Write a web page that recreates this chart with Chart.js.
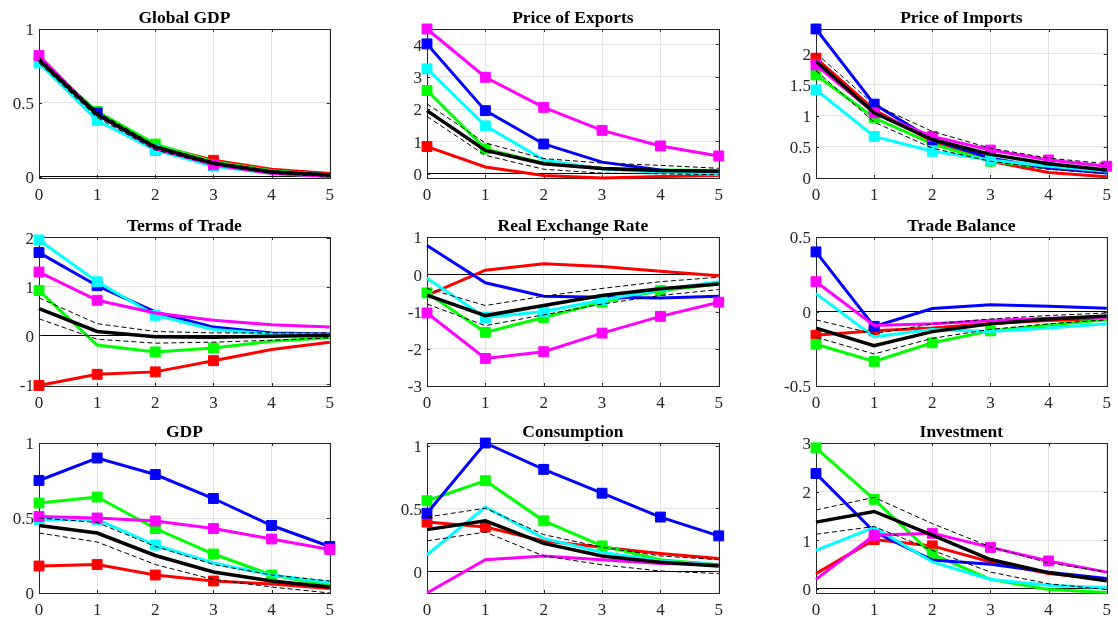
<!DOCTYPE html>
<html>
<head>
<meta charset="utf-8">
<script src="https://cdn.jsdelivr.net/npm/chart.js@4.4.0/dist/chart.umd.min.js"></script>
<style>
  html, body { margin: 0; padding: 0; background: #fff; overflow: hidden; }
  #page { position: relative; width: 1118px; height: 619px; }
  .cell { position: absolute; }
</style>
</head>
<body>
<div id="page"></div>
<script>
// panels, left to right then top to bottom
const titles = ['Global GDP', 'Price of Exports', 'Price of Imports',
                'Terms of Trade', 'Real Exchange Rate', 'Trade Balance',
                'GDP', 'Consumption', 'Investment'];
const horizons = [0, 1, 2, 3, 4, 5];

const yMin = [-0.01, -0.13, 0, -1.04, -3, -0.5, 0, -0.175, -0.09];
const yMax = [1, 4.47, 2.4, 2.02, 1, 0.5, 1, 1.02, 3.0];
const yTicks = [
  [0, 0.5, 1], [0, 1, 2, 3, 4], [0, 0.5, 1, 1.5, 2],
  [-1, 0, 1, 2], [-3, -2, -1, 0, 1], [-0.5, 0, 0.5],
  [0, 0.5, 1], [0, 0.5, 1], [0, 1, 2, 3]
];

// responses, one row per panel
const redSeries = [
  [0.80, 0.43, 0.21, 0.11, 0.05, 0.02],
  [0.84, 0.21, -0.05, -0.13, -0.08, -0.05],
  [1.93, 1.10, 0.59, 0.27, 0.09, 0.02],
  [-1.03, -0.80, -0.75, -0.52, -0.29, -0.14],
  [-0.57, 0.11, 0.28, 0.21, 0.08, -0.04],
  [-0.16, -0.13, -0.11, -0.08, -0.06, -0.05],
  [0.18, 0.19, 0.12, 0.08, 0.06, 0.03],
  [0.39, 0.35, 0.24, 0.19, 0.14, 0.10],
  [0.31, 1.01, 0.88, 0.55, 0.31, 0.19]
];
const greenSeries = [
  [0.79, 0.44, 0.22, 0.10, 0.04, 0.01],
  [2.57, 0.77, 0.33, 0.17, 0.12, 0.10],
  [1.66, 0.97, 0.55, 0.27, 0.16, 0.11],
  [0.92, -0.20, -0.34, -0.26, -0.12, -0.05],
  [-0.50, -1.56, -1.16, -0.75, -0.44, -0.26],
  [-0.22, -0.335, -0.21, -0.13, -0.09, -0.055],
  [0.60, 0.64, 0.43, 0.26, 0.12, 0.05],
  [0.56, 0.72, 0.40, 0.20, 0.09, 0.05],
  [2.90, 1.84, 0.71, 0.19, -0.02, -0.08]
];
const blueSeries = [
  [0.78, 0.43, 0.18, 0.08, 0.03, 0.01],
  [4.01, 1.95, 0.92, 0.36, 0.12, 0.02],
  [2.40, 1.19, 0.62, 0.32, 0.16, 0.08],
  [1.70, 1.02, 0.48, 0.17, 0.05, 0.03],
  [0.77, -0.23, -0.59, -0.62, -0.64, -0.59],
  [0.40, -0.10, 0.02, 0.045, 0.036, 0.022],
  [0.75, 0.90, 0.79, 0.63, 0.45, 0.31],
  [0.46, 1.02, 0.81, 0.62, 0.43, 0.28],
  [2.37, 1.17, 0.59, 0.50, 0.34, 0.21]
];
const cyanSeries = [
  [0.77, 0.38, 0.18, 0.07, 0.02, 0.00],
  [3.24, 1.48, 0.43, 0.15, 0.05, -0.02],
  [1.42, 0.67, 0.43, 0.29, 0.19, 0.11],
  [1.96, 1.10, 0.41, 0.12, 0.03, 0.02],
  [-0.11, -1.16, -1.00, -0.69, -0.42, -0.20],
  [0.12, -0.17, -0.12, -0.135, -0.11, -0.083],
  [0.49, 0.49, 0.32, 0.20, 0.12, 0.07],
  [0.13, 0.51, 0.26, 0.15, 0.08, 0.05],
  [0.79, 1.26, 0.55, 0.19, 0.07, 0.02]
];
const magentaSeries = [
  [0.82, 0.42, 0.19, 0.08, 0.02, 0.00],
  [4.47, 2.98, 2.05, 1.34, 0.86, 0.55],
  [1.82, 1.05, 0.67, 0.45, 0.29, 0.19],
  [1.30, 0.72, 0.46, 0.31, 0.22, 0.17],
  [-1.04, -2.26, -2.08, -1.58, -1.13, -0.75],
  [0.20, -0.094, -0.083, -0.06, -0.045, -0.038],
  [0.51, 0.50, 0.48, 0.43, 0.36, 0.29],
  [-0.175, 0.09, 0.12, 0.09, 0.06, 0.05],
  [0.19, 1.10, 1.14, 0.85, 0.57, 0.34]
];
const medianSeries = [
  [0.79, 0.42, 0.20, 0.09, 0.03, 0.01],
  [1.95, 0.72, 0.31, 0.16, 0.10, 0.08],
  [1.88, 1.05, 0.62, 0.38, 0.23, 0.13],
  [0.55, 0.08, -0.03, -0.04, -0.02, 0.00],
  [-0.56, -1.11, -0.84, -0.57, -0.39, -0.26],
  [-0.112, -0.23, -0.135, -0.083, -0.05, -0.03],
  [0.45, 0.40, 0.25, 0.14, 0.08, 0.04],
  [0.33, 0.40, 0.22, 0.12, 0.07, 0.04],
  [1.37, 1.59, 1.10, 0.60, 0.33, 0.16]
];
const upperBand = [
  [0.81, 0.44, 0.21, 0.10, 0.04, 0.01],
  [2.16, 0.95, 0.47, 0.33, 0.26, 0.17],
  [2.01, 1.18, 0.75, 0.48, 0.32, 0.23],
  [0.77, 0.24, 0.08, 0.05, 0.05, 0.05],
  [-0.38, -0.84, -0.59, -0.38, -0.20, -0.08],
  [-0.056, -0.15, -0.083, -0.05, -0.027, -0.01],
  [0.50, 0.47, 0.31, 0.19, 0.12, 0.08],
  [0.43, 0.50, 0.29, 0.19, 0.12, 0.09],
  [1.62, 1.88, 1.34, 0.86, 0.53, 0.34]
];
const lowerBand = [
  [0.77, 0.40, 0.18, 0.08, 0.02, 0.00],
  [1.77, 0.57, 0.14, 0.02, 0.00, -0.03],
  [1.73, 0.90, 0.48, 0.27, 0.14, 0.07],
  [0.34, -0.08, -0.16, -0.14, -0.10, -0.05],
  [-0.80, -1.38, -1.09, -0.80, -0.57, -0.41],
  [-0.173, -0.285, -0.18, -0.12, -0.083, -0.056],
  [0.40, 0.34, 0.19, 0.09, 0.04, 0.00],
  [0.24, 0.31, 0.12, 0.05, 0.00, -0.02],
  [1.12, 1.28, 0.79, 0.34, 0.10, -0.02]
];

// which points carry a square marker
const redMarks = [[0,0,0,1,0,0],[1,0,0,0,0,0],[1,1,0,0,0,0],[1,1,1,1,0,0],[0,0,0,0,0,0],[1,1,0,0,0,0],[1,1,1,1,0,0],[1,1,0,0,0,0],[0,1,1,0,0,0]];
const greenMarks = [[0,1,1,0,0,0],[1,1,0,0,0,0],[1,1,1,1,0,0],[1,0,1,1,0,0],[1,1,1,1,1,0],[1,1,1,1,0,0],[1,1,1,1,1,0],[1,1,1,1,0,0],[1,1,1,0,0,0]];
const blueMarks = [[0,1,1,0,0,0],[1,1,1,0,0,0],[1,1,1,0,0,0],[1,1,0,0,0,0],[0,0,0,0,0,0],[1,1,0,0,0,0],[1,1,1,1,1,1],[1,1,1,1,1,1],[1,0,0,0,0,0]];
const cyanMarks = [[1,1,1,1,0,0],[1,1,0,0,0,0],[1,1,1,1,0,0],[1,1,1,0,0,0],[0,1,1,1,0,0],[0,0,0,0,0,0],[1,1,1,0,0,0],[0,0,0,0,0,0],[0,0,0,0,0,0]];
const magentaMarks = [[1,0,0,1,0,0],[1,1,1,1,1,1],[1,1,1,1,1,1],[1,1,0,0,0,0],[1,1,1,1,1,1],[1,0,0,0,0,0],[1,1,1,1,1,1],[0,0,0,0,0,0],[0,1,1,1,1,0]];

// layout of the 3x3 grid (plot areas)
const plotLeft = [39, 427, 816];
const plotWidth = [294, 295, 294];
const plotTop = [29, 237, 443];
const plotHeight = [149, 149, 150];
const AXIS_W = 39, TITLE_H = 29, XAXIS_H = 24, PAD_R = 8;

const axisColor = '#262626';
const fontFamily = "'Liberation Serif', 'Times New Roman', serif";

// box around the axes with inward tick marks, like matlab
const framePlugin = {
  id: 'frame',
  beforeDatasetsDraw(chart) {
    const { ctx, chartArea: a, scales } = chart;
    ctx.save();
    ctx.strokeStyle = axisColor;
    ctx.lineWidth = 1;
    ctx.strokeRect(Math.round(a.left) + 0.5, Math.round(a.top) + 0.5,
                   Math.round(a.right - a.left), Math.round(a.bottom - a.top));
    ctx.beginPath();
    scales.x.ticks.forEach((t, k) => {
      const x = Math.round(scales.x.getPixelForTick(k)) + 0.5;
      ctx.moveTo(x, a.bottom); ctx.lineTo(x, a.bottom - 3);
      ctx.moveTo(x, a.top); ctx.lineTo(x, a.top + 3);
    });
    scales.y.ticks.forEach(t => {
      const y = Math.round(scales.y.getPixelForValue(t.value)) + 0.5;
      ctx.moveTo(a.left, y); ctx.lineTo(a.left + 3, y);
      ctx.moveTo(a.right, y); ctx.lineTo(a.right - 3, y);
    });
    ctx.stroke();
    ctx.restore();
  }
};

function lineSet(values, color, marks) {
  return {
    data: values,
    borderColor: color,
    backgroundColor: color,
    borderWidth: 3,
    pointStyle: 'rect',
    pointRadius: marks.map(m => m ? 7 : 0),
    pointBorderWidth: 1,
    pointBackgroundColor: color,
    pointBorderColor: color,
    tension: 0,
    clip: false
  };
}

function bandSet(values) {
  return {
    data: values,
    borderColor: '#000',
    borderWidth: 1,
    borderDash: [5, 3],
    pointRadius: 0,
    tension: 0,
    clip: false
  };
}

const page = document.getElementById('page');

for (let i = 0; i < titles.length; i++) {
  const row = Math.floor(i / 3), col = i % 3;
  const w = AXIS_W + plotWidth[col] + PAD_R;
  const h = TITLE_H + plotHeight[row] + XAXIS_H;
  const div = document.createElement('div');
  div.className = 'cell';
  div.style.left = (plotLeft[col] - AXIS_W) + 'px';
  div.style.top = (plotTop[row] - TITLE_H) + 'px';
  const canvas = document.createElement('canvas');
  canvas.width = w;
  canvas.height = h;
  div.appendChild(canvas);
  page.appendChild(div);

  // first dataset is drawn on top
  const datasets = [
    Object.assign(bandSet(medianSeries[i]), { borderWidth: 3.5, borderDash: [] }),
    bandSet(upperBand[i]),
    bandSet(lowerBand[i]),
    lineSet(magentaSeries[i], '#ff00ff', magentaMarks[i]),
    lineSet(cyanSeries[i], '#00ffff', cyanMarks[i]),
    lineSet(blueSeries[i], '#0000ff', blueMarks[i]),
    lineSet(greenSeries[i], '#00ff00', greenMarks[i]),
    lineSet(redSeries[i], '#ff0000', redMarks[i])
  ];

  new Chart(canvas, {
    type: 'line',
    data: { labels: horizons, datasets: datasets },
    plugins: [framePlugin],
    options: {
      responsive: false,
      animation: false,
      events: [],
      layout: { padding: { left: 0, right: PAD_R, top: 0, bottom: 0 } },
      plugins: {
        legend: { display: false },
        tooltip: { enabled: false },
        title: {
          display: true,
          fullSize: false,
          text: titles[i],
          color: '#000',
          font: { family: fontFamily, size: 17.5, weight: 'bold', lineHeight: 1.2 },
          padding: { top: 8, bottom: TITLE_H - 8 - 21 }
        }
      },
      scales: {
        x: {
          offset: false,
          grid: { color: '#e3e3e3', lineWidth: 1, drawTicks: false },
          border: { display: false },
          ticks: { color: axisColor, font: { family: fontFamily, size: 17 }, padding: 7, maxRotation: 0 },
          afterFit: s => { s.height = XAXIS_H; }
        },
        y: {
          min: yMin[i],
          max: yMax[i],
          grid: {
            color: c => (c.tick && c.tick.value === 0) ? '#000' : '#e3e3e3',
            lineWidth: 1,
            drawTicks: false
          },
          border: { display: false },
          ticks: {
            color: axisColor,
            font: { family: fontFamily, size: 17 },
            padding: 5,
            labelOffset: 2,
            callback: v => String(v)
          },
          afterBuildTicks: s => { s.ticks = yTicks[i].map(v => ({ value: v })); },
          afterFit: s => { s.width = AXIS_W; }
        }
      }
    }
  });
}
</script>
</body>
</html>
